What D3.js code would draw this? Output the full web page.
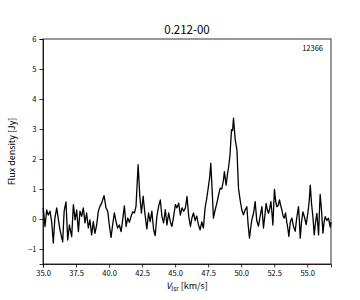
<!DOCTYPE html>
<html>
<head>
<meta charset="utf-8">
<script src="https://cdn.jsdelivr.net/npm/d3@7"></script>
<style>
  body { margin: 0; background: #fff; }
  svg text { font-family: "Noto Sans CJK JP", "DejaVu Sans", sans-serif; fill: #000; }
  .axis path, .axis line { stroke: #000; stroke-width: 0.8; }
  .axis text { font-size: 7.5px; }
</style>
</head>
<body>
<div id="chart"></div>
<script>
// spectrum: velocity [km/s] and flux density [Jy]
var velocity = [
  35.02, 35.15, 35.28, 35.40, 35.53, 35.66, 35.78, 35.90, 36.04, 36.17,
  36.29, 36.49, 36.60, 36.74, 36.87, 37.00, 37.17, 37.30, 37.43, 37.55,
  37.68, 37.80, 37.93, 38.05, 38.18, 38.30, 38.43, 38.55, 38.68, 38.81,
  38.93, 39.06, 39.19, 39.31, 39.44, 39.62, 39.77, 39.90, 40.02, 40.15,
  40.27, 40.40, 40.53, 40.65, 40.78, 40.91, 41.03, 41.16, 41.29, 41.41,
  41.54, 41.67, 41.79, 41.92, 42.04, 42.20, 42.33, 42.45, 42.58, 42.71,
  42.86, 42.99, 43.11, 43.24, 43.37, 43.49, 43.62, 43.75, 43.88, 44.00,
  44.13, 44.26, 44.38, 44.51, 44.64, 44.76, 44.89, 45.02, 45.14, 45.27,
  45.40, 45.52, 45.65, 45.78, 45.90, 46.03, 46.16, 46.28, 46.39, 46.52,
  46.64, 46.77, 46.89, 47.02, 47.14, 47.27, 47.40, 47.52, 47.62, 47.70,
  47.80, 47.90, 48.03, 48.16, 48.29, 48.41, 48.54, 48.66, 48.73, 48.86,
  48.98, 49.04, 49.15, 49.27, 49.35, 49.42, 49.55, 49.68, 49.80, 49.92,
  50.05, 50.17, 50.30, 50.43, 50.53, 50.63, 50.72, 50.81, 50.94, 51.06,
  51.18, 51.31, 51.44, 51.57, 51.69, 51.79, 51.89, 51.98, 52.07, 52.16,
  52.25, 52.33, 52.40, 52.52, 52.61, 52.70, 52.80, 52.90, 52.99, 53.08,
  53.17, 53.26, 53.36, 53.46, 53.53, 53.61, 53.72, 53.84, 53.96, 54.09,
  54.21, 54.34, 54.40, 54.47, 54.57, 54.67, 54.80, 54.92, 55.05, 55.15,
  55.23, 55.33, 55.43, 55.53, 55.63, 55.73, 55.80, 55.86, 55.92, 55.98,
  56.08, 56.19, 56.28, 56.36, 56.48, 56.61, 56.74, 56.80
];
var flux = [
  0.37, -0.25, 0.30, 0.13, 0.26, -0.10, -0.80, 0.03, 0.37, -0.04,
  -0.37, -0.76, 0.26, 0.57, -0.70, -0.20, -0.59, 0.48, -0.03, 0.30,
  -0.42, 0.26, 0.09, 0.37, -0.13, 0.20, -0.30, -0.03, -0.53, -0.09,
  -0.48, -0.20, 0.26, 0.42, 0.53, 0.78, 0.37, 0.26, -0.20, -0.61,
  -0.20, 0.20, -0.09, -0.30, -0.20, -0.42, -0.03, 0.44, -0.25, 0.03,
  -0.11, 0.09, 0.24, 0.20, 0.42, 1.81, 0.76, 0.20, 0.76, 0.20,
  -0.33, 0.20, -0.09, 0.26, -0.35, -0.55, 0.09, 0.42, 0.64, 0.09,
  -0.13, 0.31, -0.20, 0.20, -0.09, -0.25, 0.09, 0.48, 0.37, 0.53,
  0.13, 0.37, 0.26, 0.37, 0.75, 0.09, -0.25, 0.05, 0.20, -0.05,
  0.10, -0.20, -0.36, -0.10, -0.30, 0.37, 0.70, 1.08, 1.40, 1.86,
  1.00, 0.03, 0.30, 0.53, 0.80, 1.03, 1.00, 1.30, 1.58, 1.13,
  1.55, 1.70, 2.10, 2.98, 2.95, 3.36, 2.64, 2.30, 1.02, 0.64,
  0.30, 0.14, 0.30, 0.41, -0.20, -0.64, -0.30, -0.02, 0.20, 0.58,
  -0.05, -0.24, 0.10, 0.41, -0.30, 0.10, 0.52, 0.30, 0.19, 0.35,
  0.58, 0.20, -0.20, 0.99, 0.60, 0.41, 0.45, 0.64, 0.45, 0.31,
  0.10, 0.03, 0.20, -0.13, -0.30, -0.58, -0.10, 0.03, -0.25, -0.41,
  0.05, 0.41, 0.00, -0.64, -0.10, 0.24, 0.05, -0.19, 0.20, 0.60,
  1.13, 0.50, 0.08, -0.53, -0.10, 0.19, -0.20, -0.53, 0.20, 0.82,
  0.30, -0.47, -0.10, 0.08, -0.05, 0.03, -0.27, -0.10
];
var xTicks = [35.0, 37.5, 40.0, 42.5, 45.0, 47.5, 50.0, 52.5, 55.0];
var yTicks = [-1, 0, 1, 2, 3, 4, 5, 6];
var title = "0.212-00";
var tag = "12366";

var width = 360, height = 300,
  margin = { top: 39, right: 29, bottom: 36, left: 43 },
  w = width - margin.left - margin.right,
  h = height - margin.top - margin.bottom;

var svg = d3.select("#chart").append("svg")
  .attr("width", width)
  .attr("height", height);

var g = svg.append("g")
  .attr("transform", "translate(" + margin.left + "," + margin.top + ")");

var x = d3.scaleLinear().domain([35, 56.8]).range([0, w]);
var y = d3.scaleLinear().domain([-1.5, 6]).range([h, 0]);

// spectrum
var pts = velocity.map((v, i) => ({ v: v, f: flux[i] }));
g.append("path")
  .datum(pts)
  .attr("fill", "none")
  .attr("stroke", "#000")
  .attr("stroke-width", 1.3)
  .attr("stroke-linejoin", "round")
  .attr("d", d3.line().x(d => x(d.v)).y(d => y(d.f)));

// axes
g.append("g")
  .attr("class", "axis")
  .attr("transform", "translate(0," + h + ")")
  .call(d3.axisBottom(x).tickValues(xTicks).tickFormat(d3.format(".1f")).tickSize(3.5).tickPadding(3));

g.append("g")
  .attr("class", "axis")
  .call(d3.axisLeft(y).tickValues(yTicks).tickFormat(d => d < 0 ? "\u2212" + Math.abs(d) : d).tickSize(3.5).tickPadding(3));

// frame
g.append("rect")
  .attr("width", w)
  .attr("height", h)
  .attr("fill", "none")
  .attr("stroke", "#000")
  .attr("stroke-width", 0.8);

svg.append("text")
  .attr("x", margin.left + w / 2)
  .attr("y", 34)
  .attr("text-anchor", "middle")
  .attr("font-size", "11.5px")
  .text(title);

g.append("text")
  .attr("x", w - 8)
  .attr("y", 12)
  .attr("text-anchor", "end")
  .attr("font-size", "7.5px")
  .text(tag);

// axis labels
svg.append("text")
  .attr("transform", "translate(15," + (margin.top + h / 2) + ") rotate(-90)")
  .attr("text-anchor", "middle")
  .attr("font-size", "9px")
  .text("Flux density [Jy]");

var xl = svg.append("text")
  .attr("x", margin.left + w / 2)
  .attr("y", 289)
  .attr("text-anchor", "middle")
  .attr("font-size", "9px");
xl.append("tspan").attr("font-style", "italic").text("V");
xl.append("tspan").attr("font-size", "6.5px").attr("dy", 2).text("lsr");
xl.append("tspan").attr("dy", -2).text(" [km/s]");
</script>
</body>
</html>
